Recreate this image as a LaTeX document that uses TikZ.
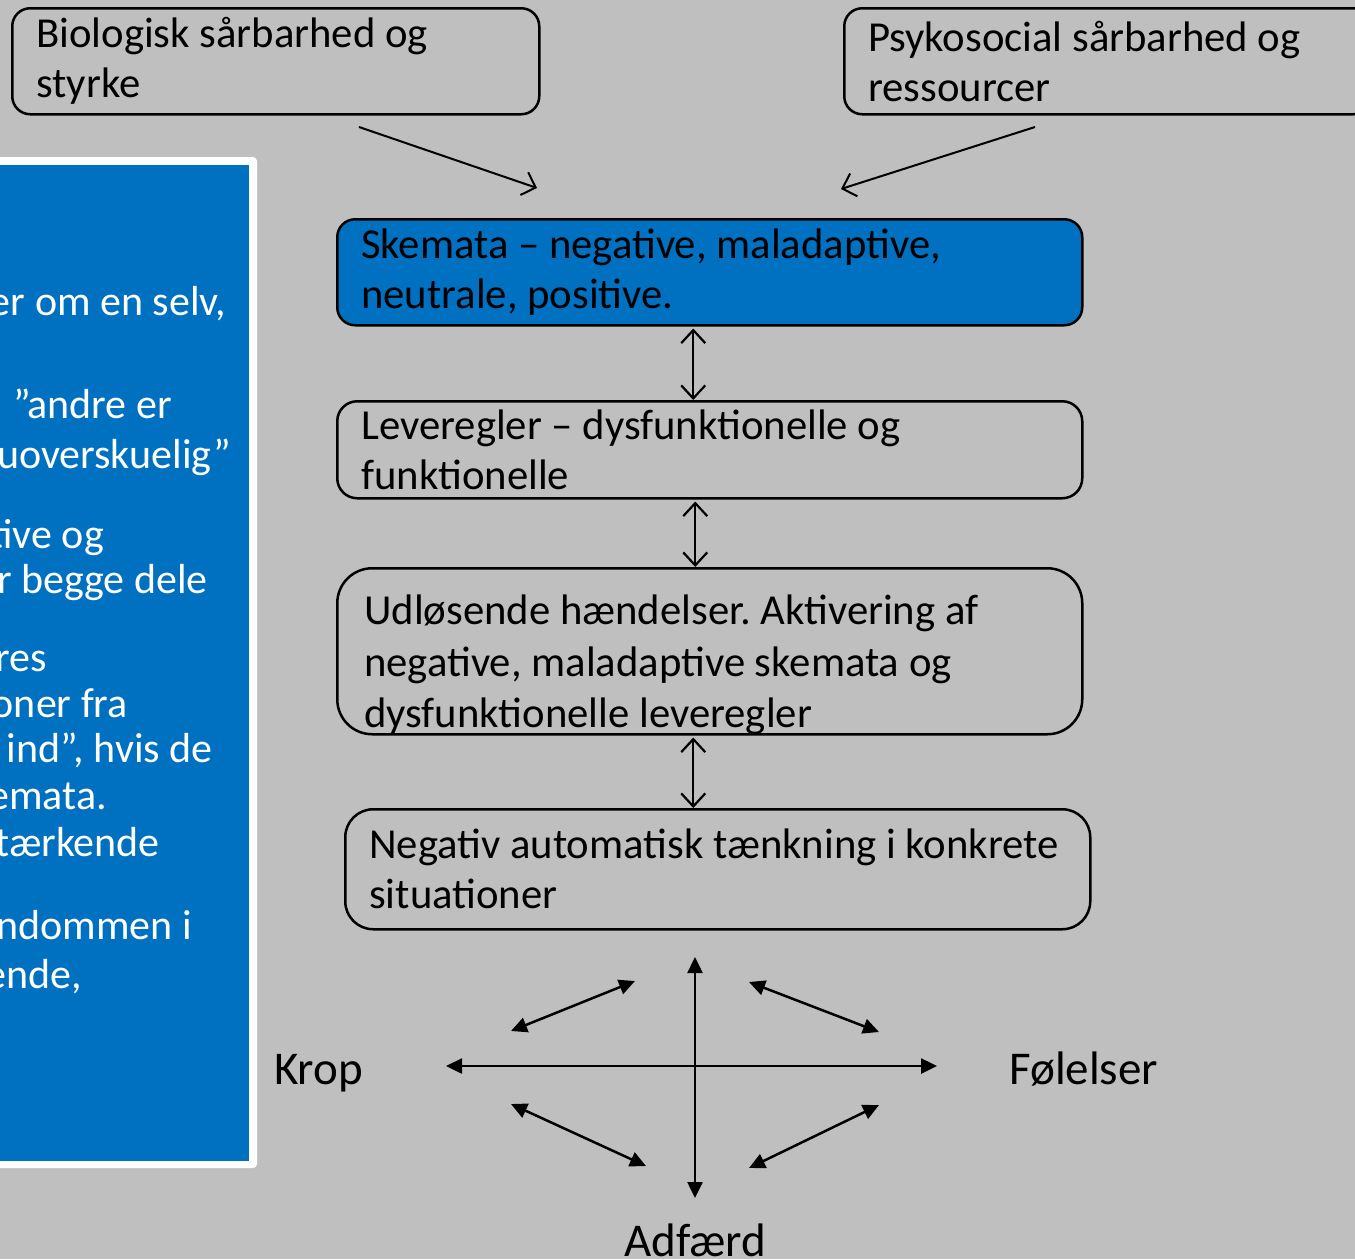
\documentclass[tikz,border=0pt]{standalone}
\usepackage{fontspec}
\setmainfont{Carlito}
\usetikzlibrary{arrows.meta,calc}
\definecolor{bg}{HTML}{BFBFBF}
\definecolor{pblue}{HTML}{0070C0}
\frenchspacing
\begin{document}
\begin{tikzpicture}[x=1pt,y=-1pt,
  box/.style={draw=black, line width=2.5pt, anchor=north west, inner ysep=0pt, inner xsep=24pt, align=flush left, font=\fontsize{42.7}{50}\selectfont},
  ptxt/.style={text=white, anchor=base east, inner sep=0pt, font=\fontsize{42}{50}\selectfont},
  lbl/.style={anchor=base west, inner sep=0pt, font=\fontsize{47}{50}\selectfont},
  openarr/.style={line width=2pt, -{Straight Barb[length=12pt,width=24pt,line width=2pt]}},
  dblopen/.style={line width=2.2pt, {Straight Barb[length=13pt,width=24pt,line width=2.2pt]}-{Straight Barb[length=13pt,width=24pt,line width=2.2pt]}},
  dblfill/.style={line width=2.5pt, {Triangle[length=16pt,width=15pt]}-{Triangle[length=16pt,width=15pt]}}
]
\useasboundingbox (0,0) rectangle (1355,1259);
\fill[bg] (0,0) rectangle (1355,1259);

% left blue panel
\fill[white, rounded corners=4pt] (-20,157) rectangle (257,1168);
\fill[pblue] (-20,165) rectangle (249,1161);
\begin{scope}
\clip (0,165) rectangle (249,1161);
\node[ptxt] (p1) at (226,315) {er om en selv,};
\node[ptxt] (p2) at (172,418) {”andre er};
\node[ptxt] (p3) at (231,468) {uoverskuelig”};
\node[ptxt] (p4) at (104,548) {tive og};
\node[ptxt] (p5) at (208,593) {r begge dele};
\node[ptxt] (p6) at (47,671) {res};
\node[ptxt] (p7) at (128,717) {oner fra};
\node[ptxt] (p8) at (213,762) {ind”, hvis de};
\node[ptxt] (p9) at (107,809) {emata.};
\node[ptxt] (p10) at (160,856) {tærkende};
\node[ptxt] (p11) at (192,939) {ndommen i};
\node[ptxt] (p12) at (82,988) {ende,};
\end{scope}

% top boxes
\node[box, rounded corners=18pt, minimum width=527pt, minimum height=106pt, text width=479pt] (bio) at (11,7) {Biologisk sårbarhed og\\styrke};
\node[box, rounded corners=18pt, minimum width=527pt, minimum height=106pt, text width=479pt] (psy) at (843,7) {Psykosocial sårbarhed og\\ressourcer};

% chain
\node[box, fill=pblue, rounded corners=18pt, minimum width=745pt, minimum height=106pt, text width=697pt] (skem) at (336,218) {Skemata – negative, maladaptive,\\neutrale, positive.};
\node[box, rounded corners=20pt, minimum width=745pt, minimum height=97pt, text width=697pt] (lev) at (336,400) {Leveregler – dysfunktionelle og\\funktionelle};
\node[box, rounded corners=35pt, minimum width=745pt, minimum height=166pt] (udl) at (336,567) {};
\node[anchor=north west, inner sep=0pt, align=flush left, text width=700pt, font=\fontsize{42.7}{51.5}\selectfont] (udltxt) at ([xshift=28pt,yshift=-28pt]udl.north west) {Udløsende hændelser. Aktivering af\\negative, maladaptive skemata og\\dysfunktionelle leveregler};
\node[box, rounded corners=28pt, minimum width=745pt, minimum height=120pt, text width=697pt] (neg) at (344,808) {Negativ automatisk tænkning i konkrete\\situationer};

% arrows from top boxes
\coordinate (a1s) at (359,127);
\coordinate (a1e) at (537,188);
\coordinate (a2s) at (1035,127);
\coordinate (a2e) at (841,189);
\draw[openarr] (a1s) -- (a1e);
\draw[openarr] (a2s) -- (a2e);

% chain arrows
\draw[dblopen] ([xshift=-16.5pt,yshift=-2pt]skem.south) -- ([xshift=-16.5pt]lev.north);
\draw[dblopen] ([xshift=-14.5pt,yshift=-2pt]lev.south) -- ([xshift=-14.5pt]udl.north);
\draw[dblopen] ([xshift=-16.5pt,yshift=-2pt]udl.south) -- ([xshift=-16.5pt]udl.south |- neg.north);

% bottom labels
\node[lbl] (krop) at (274,1084) {Krop};
\node[lbl] (fol) at (1009,1084) {Følelser};
\node[lbl] (adf) at (624,1256) {Adfærd};

% cross
\coordinate (ct) at (695,957);
\coordinate (cb) at (695,1198);
\coordinate (cl) at (446,1066);
\coordinate (cr) at (937,1066);
\draw[dblfill] (ct) -- (cb);
\draw[dblfill] (cl) -- (cr);
\coordinate (d1a) at (511,1031);
\coordinate (d1b) at (635,981);
\coordinate (d2a) at (749,982);
\coordinate (d2b) at (879,1032);
\coordinate (d3a) at (511,1104);
\coordinate (d3b) at (646,1166);
\coordinate (d4a) at (749,1168);
\coordinate (d4b) at (879,1105);
\draw[dblfill] (d1a) -- (d1b);
\draw[dblfill] (d2a) -- (d2b);
\draw[dblfill] (d3a) -- (d3b);
\draw[dblfill] (d4a) -- (d4b);
\end{tikzpicture}
\end{document}
